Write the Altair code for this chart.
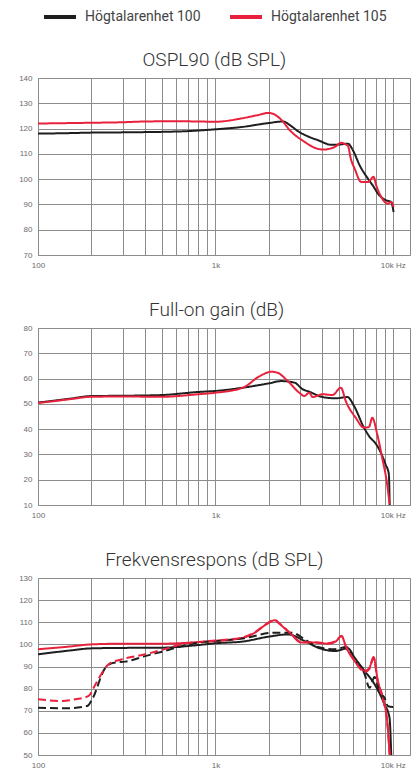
import altair as alt
import pandas as pd

UNITS = ["Högtalarenhet 100", "Högtalarenhet 105"]
COLORS = ["#1e1e1e", "#e8213c"]

# OSPL90 (dB SPL)
ospl_100_f = [100, 150, 200, 300, 400, 500, 700, 1000, 1400, 2000, 2400, 2650, 2930, 3300, 3790, 4500, 5000, 5590, 5960, 6500, 7240, 7800, 8240, 8700, 9170, 9790, 10100]
ospl_100_v = [118.0, 118.2, 118.4, 118.5, 118.6, 118.7, 119.0, 119.7, 120.6, 122.2, 122.8, 121.2, 118.9, 117.0, 115.4, 113.6, 113.7, 114.0, 111.4, 105.5, 100.2, 97.0, 94.3, 92.6, 91.6, 91.0, 87.0]
ospl_105_f = [100, 200, 300, 400, 600, 800, 1000, 1400, 1700, 2000, 2150, 2310, 2680, 3190, 3600, 4050, 4700, 5130, 5400, 5590, 5800, 6090, 6640, 7240, 7790, 8060, 8600, 9370, 9790, 10100]
ospl_105_v = [122.0, 122.3, 122.5, 122.8, 122.9, 122.8, 122.7, 124.0, 125.2, 126.2, 125.6, 124.0, 118.7, 114.7, 112.5, 111.7, 112.7, 114.4, 113.8, 113.1, 108.0, 104.2, 98.9, 98.9, 100.9, 97.6, 93.0, 90.3, 91.0, 89.0]

# Full-on gain (dB)
gain_100_f = [100, 150, 200, 300, 500, 800, 1000, 1430, 2000, 2350, 2790, 3100, 3380, 4020, 4780, 5550, 6040, 6880, 7340, 8170, 9100, 9500, 9600]
gain_100_v = [50.5, 52.0, 53.1, 53.2, 53.5, 54.7, 55.1, 56.4, 58.1, 59.0, 58.4, 55.8, 54.8, 52.7, 52.2, 52.7, 49.2, 40.6, 37.3, 33.4, 26.1, 22.2, 10.0]
gain_105_f = [100, 150, 200, 300, 500, 800, 1000, 1430, 1780, 2070, 2240, 2560, 2970, 3170, 3380, 3530, 4020, 4570, 5100, 5430, 6180, 6880, 7340, 7660, 8170, 8710, 9290, 9590]
gain_105_v = [50.3, 51.8, 52.8, 52.9, 52.8, 53.8, 54.4, 56.4, 61.0, 62.7, 62.3, 59.0, 54.4, 53.1, 54.4, 52.7, 53.8, 53.5, 56.4, 51.1, 44.5, 40.6, 40.9, 44.5, 38.0, 28.7, 18.2, 10.3]

# Frekvensrespons (dB SPL)
fr_100_f = [100, 150, 200, 300, 500, 800, 1000, 1430, 2000, 2570, 3190, 3790, 4700, 5590, 6090, 6940, 7890, 8980, 9580, 9800]
fr_100_v = [95.5, 97.2, 98.2, 98.4, 98.5, 99.7, 100.5, 101.3, 103.5, 104.5, 101.5, 98.5, 97.0, 98.2, 94.0, 88.0, 82.0, 72.9, 66.9, 50.0]
fr_105_f = [100, 150, 200, 300, 500, 800, 1000, 1430, 1670, 1940, 2160, 2310, 2680, 3050, 3630, 4310, 4800, 5130, 5470, 6090, 6940, 7390, 7790, 8240, 8790, 9370, 9600]
fr_105_v = [97.8, 99.0, 100.0, 100.3, 100.3, 101.0, 101.5, 103.0, 105.3, 109.1, 110.9, 109.1, 104.5, 100.8, 100.8, 100.3, 101.5, 103.8, 98.5, 92.5, 88.0, 89.5, 94.3, 83.4, 75.9, 62.3, 50.0]
frd_100_f = [100, 140, 189, 202, 240, 267, 310, 402, 500, 620, 800, 1000, 1430, 2160, 2680, 3190, 3790, 4700, 5470, 6090, 6940, 7390, 7890, 8420, 8980, 9400, 10000, 10100]
frd_100_v = [71.4, 71.1, 72.1, 75.2, 89.5, 91.7, 92.2, 94.7, 96.7, 98.8, 100.8, 101.5, 102.7, 105.3, 105.3, 102.3, 98.8, 97.8, 98.8, 93.3, 86.5, 80.4, 85.2, 78.2, 75.9, 72.0, 71.7, 71.7]
frd_105_f = [100, 137, 163, 193, 211, 250, 298, 402, 500, 620, 800, 1000, 1430, 1670, 1940, 2160, 2310, 2680, 3050, 3630, 4310, 4800, 5130, 5470, 6090, 6940, 7390, 7790, 8240, 8790, 9370, 9600]
frd_105_v = [75.2, 74.4, 75.2, 76.7, 82.0, 91.0, 93.3, 95.5, 97.5, 99.7, 101.1, 101.7, 103.2, 105.5, 109.3, 111.0, 109.3, 104.7, 101.0, 101.0, 100.5, 101.7, 103.8, 98.7, 92.7, 87.5, 89.0, 93.8, 83.0, 75.5, 62.0, 50.0]

GRID_X = [100, 200, 300, 400, 500, 600, 700, 800, 900,
          1000, 2000, 3000, 4000, 5000, 6000, 7000, 8000, 9000, 10000]


def make_df(series):
    rows = []
    for unit, style, fs, vs in series:
        for f, v in zip(fs, vs):
            rows.append({"unit": unit, "style": style, "key": unit + style, "f": f, "v": v})
    return pd.DataFrame(rows)


def panel(df, title, ymin, ymax):
    return alt.Chart(df, title=alt.Title(
        title, fontSize=19, font="Roboto", fontWeight=300, color="#333333",
        anchor="middle", frame="bounds", offset=4)
    ).mark_line(strokeWidth=2, clip=True, interpolate="monotone").encode(
        x=alt.X("f:Q", scale=alt.Scale(type="log", domain=[100, 12500], nice=False),
                axis=alt.Axis(values=GRID_X, title=None, labelOverlap=False, labelFlush=False,
                              labelExpr="datum.value == 100 ? '100' : datum.value == 1000 ? '1k' : datum.value == 10000 ? '10k Hz' : ''")),
        y=alt.Y("v:Q", scale=alt.Scale(domain=[ymin, ymax], nice=False, zero=False),
                axis=alt.Axis(values=list(range(ymin, ymax + 1, 10)), title=None)),
        color=alt.Color("unit:N", scale=alt.Scale(domain=UNITS, range=COLORS),
                        legend=alt.Legend(title=None, orient="none", direction="horizontal",
                                          legendX=4, legendY=-79)),
        strokeDash=alt.StrokeDash("style:N", scale=alt.Scale(domain=["solid", "dashed"], range=[[1, 0], [8, 4]]), legend=None),
        detail="key:N",
        order=alt.Order("f:Q"),
    ).properties(width=372, height=177)


p1 = panel(make_df([(UNITS[0], "solid", ospl_100_f, ospl_100_v), (UNITS[1], "solid", ospl_105_f, ospl_105_v)]),
           "OSPL90 (dB SPL)", 70, 140)
p2 = panel(make_df([(UNITS[0], "solid", gain_100_f, gain_100_v), (UNITS[1], "solid", gain_105_f, gain_105_v)]),
           "Full-on gain (dB)", 10, 80)
p3 = panel(make_df([(UNITS[0], "solid", fr_100_f, fr_100_v), (UNITS[1], "solid", fr_105_f, fr_105_v),
                    (UNITS[0], "dashed", frd_100_f, frd_100_v), (UNITS[1], "dashed", frd_105_f, frd_105_v)]),
           "Frekvensrespons (dB SPL)", 50, 130)

chart = alt.vconcat(p1, p2, p3, spacing=30).properties(
    padding={"left": 10, "top": -9, "right": 0, "bottom": 0}
).configure_view(stroke="#8a8a8a", strokeWidth=1).configure_axis(
    grid=True, gridColor="#8c8c8c", gridWidth=1, domain=False, ticks=False,
    labelFont="Liberation Sans Narrow, Liberation Sans", labelFontSize=8, labelColor="#6a6a6a", labelPadding=6,
).configure_legend(
    labelFont="Roboto", labelFontSize=14, labelColor="#444444", symbolType="stroke",
    symbolSize=1024, symbolStrokeWidth=4, labelOffset=7, columnPadding=21,
)

chart.save("out.html", embed_options={"renderer": "svg", "actions": False})
